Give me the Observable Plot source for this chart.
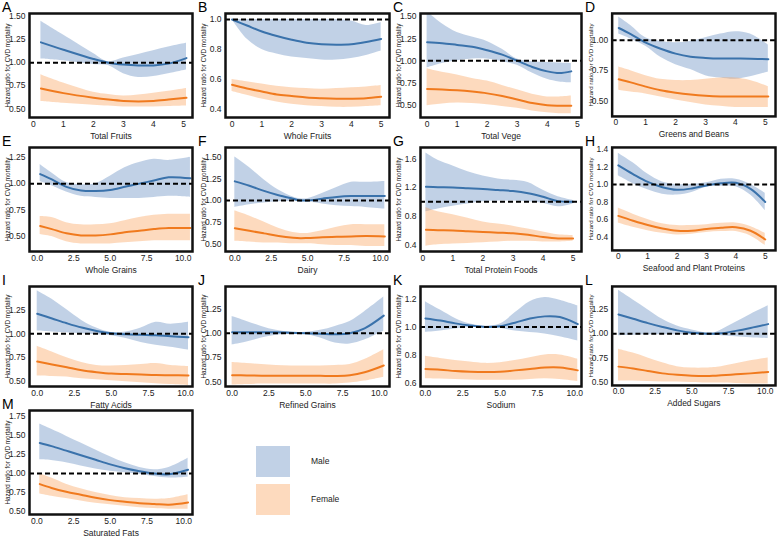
<!DOCTYPE html>
<html><head><meta charset="utf-8">
<script src="https://cdn.jsdelivr.net/npm/d3@7"></script>
<script src="https://cdn.jsdelivr.net/npm/@observablehq/plot@0.6"></script>
<style>
body{margin:0;background:#fff;font-family:"Liberation Sans",Arial,sans-serif;}
#wrap{position:relative;width:778px;height:539px;overflow:hidden;background:#fff;}
.panel{position:absolute;}
.letter{position:absolute;font-size:14px;line-height:14px;color:#000;}
.sw{position:absolute;width:34px;height:31px;}
.lt{position:absolute;font-size:8.5px;color:#222;}
g[aria-label="y-axis label"]{font-size:6.3px;}
</style></head><body><div id="wrap"></div>
<script>
// ---- data ----
const A_x=[0.25,1,2,2.5,3,3.5,4,4.5,5.1];
const A_m=[1.22,1.14,1.04,1.0,0.98,0.97,0.97,0.99,1.05];
const A_mLo=[1.04,1.02,0.98,0.97,0.88,0.84,0.85,0.88,0.92];
const A_mHi=[1.45,1.30,1.10,1.01,1.05,1.09,1.13,1.17,1.21];
const A_f=[0.72,0.67,0.62,0.60,0.585,0.58,0.585,0.60,0.62];
const A_fLo=[0.58,0.56,0.54,0.53,0.52,0.52,0.52,0.525,0.53];
const A_fHi=[0.87,0.78,0.68,0.655,0.64,0.65,0.67,0.69,0.72];

const B_x=[0,0.5,1,1.5,2,2.5,3,3.5,4,4.5,5];
const B_m=[1.0,0.96,0.92,0.89,0.865,0.845,0.835,0.832,0.835,0.85,0.87];
const B_mLo=[1.0,0.87,0.80,0.77,0.75,0.74,0.73,0.73,0.74,0.76,0.79];
const B_mHi=[1.0,1.0,1.0,1.0,1.0,1.0,1.0,1.0,0.99,0.96,0.98];
const B_f=[0.565,0.54,0.52,0.50,0.49,0.48,0.475,0.472,0.472,0.475,0.485];
const B_fLo=[0.52,0.495,0.47,0.45,0.435,0.425,0.42,0.415,0.415,0.42,0.425];
const B_fHi=[0.60,0.585,0.57,0.555,0.545,0.54,0.535,0.54,0.545,0.55,0.56];

const C_x=[0,0.5,1,1.5,2,2.5,3,3.5,4,4.4,4.8];
const C_m=[1.21,1.20,1.18,1.16,1.12,1.07,1.0,0.93,0.88,0.86,0.88];
const C_mLo=[0.92,0.97,1.0,1.02,1.02,0.99,0.95,0.86,0.79,0.76,0.75];
const C_mHi=[1.56,1.42,1.32,1.27,1.22,1.13,1.02,0.99,0.98,0.975,0.97];
const C_f=[0.68,0.675,0.665,0.65,0.63,0.60,0.56,0.52,0.495,0.49,0.49];
const C_fLo=[0.49,0.51,0.52,0.515,0.50,0.48,0.46,0.43,0.41,0.40,0.40];
const C_fHi=[0.91,0.87,0.84,0.80,0.77,0.72,0.67,0.62,0.59,0.59,0.60];

const D_x=[0.1,0.5,1,1.5,2,2.5,3,3.5,4,4.5,5.1];
const D_m=[1.10,1.05,0.98,0.93,0.89,0.865,0.855,0.85,0.85,0.848,0.845];
const D_mLo=[1.05,1.01,0.95,0.86,0.80,0.76,0.71,0.69,0.68,0.70,0.74];
const D_mHi=[1.19,1.12,1.02,0.99,0.98,0.99,1.02,1.05,1.07,1.05,0.96];
const D_f=[0.68,0.655,0.62,0.59,0.57,0.555,0.545,0.54,0.54,0.54,0.54];
const D_fLo=[0.59,0.575,0.56,0.535,0.51,0.49,0.47,0.46,0.45,0.45,0.45];
const D_fHi=[0.78,0.75,0.71,0.68,0.67,0.67,0.68,0.69,0.69,0.67,0.62];

const E_x=[0.2,1,2,3,4,5,6,7,8,9,10.5];
const E_m=[1.09,1.04,0.97,0.935,0.93,0.94,0.97,1.0,1.03,1.06,1.05];
const E_mLo=[1.02,0.98,0.92,0.88,0.87,0.86,0.86,0.86,0.87,0.88,0.87];
const E_mHi=[1.18,1.10,1.01,0.99,1.0,1.07,1.15,1.20,1.23,1.22,1.25];
const E_f=[0.60,0.57,0.53,0.51,0.51,0.52,0.54,0.555,0.57,0.58,0.58];
const E_fLo=[0.52,0.50,0.45,0.43,0.43,0.43,0.44,0.45,0.46,0.46,0.46];
const E_fHi=[0.69,0.68,0.63,0.61,0.61,0.62,0.65,0.68,0.70,0.71,0.71];

const F_x=[0,1,2,3,4,4.5,5,6,7,8,9,10.3];
const F_m=[1.22,1.17,1.11,1.06,1.02,1.0,1.0,1.02,1.04,1.05,1.05,1.05];
const F_mLo=[0.92,0.95,0.97,0.985,0.99,0.99,0.985,0.96,0.94,0.93,0.92,0.90];
const F_mHi=[1.50,1.38,1.24,1.12,1.04,1.02,1.02,1.08,1.15,1.21,1.21,1.22];
const F_f=[0.68,0.65,0.62,0.59,0.57,0.565,0.567,0.575,0.58,0.585,0.59,0.585];
const F_fLo=[0.53,0.52,0.51,0.51,0.50,0.50,0.50,0.49,0.48,0.48,0.47,0.47];
const F_fHi=[0.88,0.82,0.75,0.68,0.63,0.62,0.62,0.65,0.69,0.72,0.72,0.72];

const G_x=[0.1,0.5,1,1.5,2,2.5,3,3.5,4,4.5,5];
const G_m=[1.21,1.205,1.20,1.19,1.18,1.165,1.15,1.12,1.07,1.01,1.0];
const G_mLo=[0.86,0.90,0.94,0.97,1.0,1.01,1.01,1.0,0.98,0.93,0.97];
const G_mHi=[1.68,1.58,1.50,1.42,1.36,1.32,1.30,1.27,1.16,1.07,1.02];
const G_f=[0.61,0.605,0.60,0.59,0.58,0.57,0.56,0.54,0.51,0.49,0.49];
const G_fLo=[0.38,0.40,0.41,0.42,0.43,0.44,0.45,0.45,0.44,0.44,0.45];
const G_fHi=[0.92,0.86,0.82,0.77,0.72,0.69,0.66,0.62,0.58,0.54,0.53];

const H_x=[0,0.5,1,1.5,2,2.5,3,3.5,4,4.5,5];
const H_m=[1.22,1.12,1.03,0.97,0.94,0.955,0.99,1.015,1.02,0.95,0.80];
const H_mLo=[1.10,1.01,0.94,0.89,0.88,0.91,0.97,0.98,0.975,0.88,0.70];
const H_mHi=[1.36,1.25,1.12,1.03,1.0,1.0,1.02,1.06,1.06,1.0,0.90];
const H_f=[0.64,0.585,0.535,0.495,0.47,0.47,0.49,0.505,0.51,0.47,0.37];
const H_fLo=[0.56,0.51,0.47,0.44,0.42,0.43,0.45,0.46,0.46,0.41,0.30];
const H_fHi=[0.73,0.66,0.60,0.55,0.53,0.53,0.54,0.555,0.56,0.52,0.44];

const I_x=[0,1,2,3,4,5,6,7,8,9,10.2];
const I_m=[1.21,1.16,1.11,1.065,1.03,1.005,0.995,0.99,0.985,0.975,0.965];
const I_mLo=[1.03,1.02,1.01,1.0,0.99,0.98,0.95,0.91,0.88,0.86,0.83];
const I_mHi=[1.45,1.36,1.25,1.14,1.06,1.015,1.02,1.06,1.12,1.10,1.12];
const I_f=[0.71,0.68,0.65,0.62,0.60,0.585,0.58,0.575,0.57,0.568,0.565];
const I_fLo=[0.56,0.555,0.55,0.53,0.52,0.51,0.50,0.49,0.48,0.47,0.46];
const I_fHi=[0.87,0.81,0.75,0.70,0.67,0.665,0.67,0.68,0.69,0.67,0.66];

const J_x=[0,1,2,3,4,5,6,7,8,9,10.3];
const J_m=[1.01,1.01,1.01,1.01,1.005,1.0,0.995,0.99,1.0,1.05,1.18];
const J_mLo=[0.88,0.91,0.95,0.98,0.99,0.99,0.95,0.90,0.89,0.93,1.02];
const J_mHi=[1.17,1.12,1.07,1.03,1.01,1.01,1.03,1.07,1.12,1.22,1.37];
const J_f=[0.57,0.568,0.566,0.565,0.565,0.565,0.564,0.563,0.57,0.60,0.67];
const J_fLo=[0.47,0.475,0.48,0.48,0.48,0.48,0.48,0.48,0.49,0.51,0.55];
const J_fHi=[0.70,0.69,0.68,0.67,0.665,0.665,0.665,0.67,0.68,0.73,0.83];

const K_x=[0,1,2,3,4,5,6,7,8,9,10.2];
const K_m=[1.06,1.045,1.025,1.01,1.0,1.005,1.03,1.06,1.075,1.07,1.02];
const K_mLo=[0.96,0.97,0.985,0.995,0.995,0.99,0.97,0.96,0.95,0.93,0.90];
const K_mHi=[1.18,1.12,1.06,1.02,1.005,1.02,1.10,1.18,1.21,1.19,1.15];
const K_f=[0.70,0.695,0.685,0.68,0.678,0.68,0.69,0.70,0.71,0.71,0.69];
const K_fLo=[0.63,0.628,0.625,0.622,0.62,0.62,0.62,0.625,0.63,0.625,0.61];
const K_fHi=[0.79,0.775,0.76,0.75,0.74,0.745,0.76,0.78,0.80,0.80,0.77];

const L_x=[0,1,2,3,4,5,6,6.5,7,8,9,10.2];
const L_m=[1.20,1.155,1.11,1.07,1.035,1.01,1.0,1.0,1.005,1.03,1.06,1.10];
const L_mLo=[0.98,0.985,0.99,0.99,0.99,0.99,0.99,0.985,0.98,0.97,0.96,0.95];
const L_mHi=[1.45,1.35,1.25,1.15,1.08,1.04,1.01,1.01,1.04,1.12,1.20,1.29];
const L_f=[0.66,0.64,0.615,0.59,0.575,0.565,0.562,0.565,0.57,0.58,0.59,0.605];
const L_fLo=[0.51,0.51,0.505,0.50,0.50,0.495,0.49,0.49,0.49,0.485,0.48,0.48];
const L_fHi=[0.84,0.80,0.75,0.70,0.66,0.645,0.645,0.65,0.66,0.69,0.72,0.75];

const M_x=[0.2,1,2,3,4,5,6,7,8,9,10.3];
const M_m=[1.40,1.36,1.30,1.24,1.18,1.12,1.07,1.03,1.0,0.99,1.05];
const M_mLo=[1.18,1.17,1.14,1.10,1.06,1.03,1.01,0.99,0.96,0.94,0.95];
const M_mHi=[1.65,1.58,1.49,1.40,1.31,1.22,1.14,1.08,1.05,1.08,1.20];
const M_f=[0.86,0.81,0.76,0.72,0.68,0.65,0.63,0.61,0.60,0.59,0.62];
const M_fLo=[0.73,0.70,0.67,0.64,0.61,0.59,0.57,0.55,0.54,0.53,0.53];
const M_fHi=[1.0,0.94,0.86,0.80,0.75,0.71,0.68,0.67,0.66,0.67,0.72];

const titles=["Total Fruits","Whole Fruits","Total Vege","Greens and Beans","Whole Grains","Dairy","Total Protein Foods","Seafood and Plant Proteins","Fatty Acids","Refined Grains","Sodium","Added Sugars","Saturated Fats"];
const letters=["A","B","C","D","E","F","G","H","I","J","K","L","M"];
const xTicks5=[0,1,2,3,4,5];
const xTicks10=[0,2.5,5,7.5,10];
const yTicksQ=[0.5,0.75,1.0,1.25,1.5,1.75];
const yTicksB=[0.4,0.6,0.8,1.0];
const yTicksG=[0.4,0.8,1.2,1.6];
const yTicksH=[0.4,0.6,0.8,1.0,1.2,1.4];
const yTicksK=[0.6,0.8,1.0,1.2];
const seriesNames=["Male","Female"];

// ---- scale settings per panel ----
const cfg={
 A:{xd:[-0.13,5.3],yd:[0.406,1.533],xt:xTicks5,yt:yTicksQ,xf:"d",yf:".2f"},
 B:{xd:[-0.22,5.28],yd:[0.347,1.04],xt:xTicks5,yt:yTicksB,xf:"d",yf:".1f"},
 C:{xd:[-0.22,5.14],yd:[0.356,1.537],xt:xTicks5,yt:yTicksQ,xf:"d",yf:".2f"},
 D:{xd:[-0.12,5.34],yd:[0.376,1.219],xt:xTicks5,yt:yTicksQ,xf:"d",yf:".2f"},
 E:{xd:[-0.53,10.64],yd:[0.358,1.342],xt:xTicks10,yt:yTicksQ,xf:".1f",yf:".2f"},
 F:{xd:[-0.64,10.62],yd:[0.411,1.611],xt:xTicks10,yt:yTicksQ,xf:".1f",yf:".2f"},
 G:{xd:[-0.08,5.28],yd:[0.307,1.758],xt:xTicks5,yt:yTicksG,xf:"d",yf:".1f"},
 H:{xd:[-0.21,5.35],yd:[0.244,1.426],xt:xTicks5,yt:yTicksH,xf:"d",yf:".1f"},
 I:{xd:[-0.52,10.47],yd:[0.45,1.494],xt:xTicks10,yt:yTicksQ,xf:".1f",yf:".2f"},
 J:{xd:[-0.45,10.69],yd:[0.455,1.478],xt:xTicks10,yt:yTicksQ,xf:".1f",yf:".2f"},
 K:{xd:[-0.33,10.45],yd:[0.575,1.288],xt:xTicks10,yt:yTicksK,xf:".1f",yf:".1f"},
 L:{xd:[-0.43,10.7],yd:[0.465,1.49],xt:xTicks10,yt:yTicksQ,xf:".1f",yf:".2f"},
 M:{xd:[-0.5,10.6],yd:[0.461,1.828],xt:xTicks10,yt:yTicksQ,xf:".1f",yf:".2f"}
};
const src={A:[A_x,A_m,A_mLo,A_mHi,A_f,A_fLo,A_fHi],B:[B_x,B_m,B_mLo,B_mHi,B_f,B_fLo,B_fHi],C:[C_x,C_m,C_mLo,C_mHi,C_f,C_fLo,C_fHi],D:[D_x,D_m,D_mLo,D_mHi,D_f,D_fLo,D_fHi],E:[E_x,E_m,E_mLo,E_mHi,E_f,E_fLo,E_fHi],F:[F_x,F_m,F_mLo,F_mHi,F_f,F_fLo,F_fHi],G:[G_x,G_m,G_mLo,G_mHi,G_f,G_fLo,G_fHi],H:[H_x,H_m,H_mLo,H_mHi,H_f,H_fLo,H_fHi],I:[I_x,I_m,I_mLo,I_mHi,I_f,I_fLo,I_fHi],J:[J_x,J_m,J_mLo,J_mHi,J_f,J_fLo,J_fHi],K:[K_x,K_m,K_mLo,K_mHi,K_f,K_fLo,K_fHi],L:[L_x,L_m,L_mLo,L_mHi,L_f,L_fLo,L_fHi],M:[M_x,M_m,M_mLo,M_mHi,M_f,M_fLo,M_fHi]};

// ---- layout ----
const colFrame=[[29,192],[225,389],[420,581],[612,777]];
const rowFrame=[[13,117],[147,251],[286,386],[410,514]];
const maleLine="#3a72ab", femaleLine="#f07a1e";
const maleBand="#5b86bd", femaleBand="#fb9e55";
const wrap=document.getElementById("wrap");
const mL=34,mR=3,mT=4,mB=26;
const inDom=(t,d)=>t>=d[0]-1e-9&&t<=d[1]+1e-9;

letters.forEach((id,i)=>{
  const col=i%4,row=Math.floor(i/4);
  const [fl,fr]=colFrame[col],[ft,fb]=rowFrame[row];
  const c=cfg[id], s=src[id];
  const rows=s[0].map((x,k)=>({x,m:s[1][k],mLo:s[2][k],mHi:s[3][k],f:s[4][k],fLo:s[5][k],fHi:s[6][k]}));
  const xt=c.xt.filter(t=>inDom(t,c.xd)), yt=c.yt.filter(t=>inDom(t,c.yd));
  const W=fr-fl+mL+mR,H=fb-ft+mT+mB;
  const p=Plot.plot({
    width:W,height:H,marginLeft:mL,marginRight:mR,marginTop:mT,marginBottom:mB,
    style:{fontFamily:"Liberation Sans, Arial, sans-serif",fontSize:"8.5px",color:"#222",background:"transparent",overflow:"visible"},
    x:{domain:c.xd,ticks:xt,tickFormat:d3.format(c.xf)},
    y:{domain:c.yd,ticks:yt,tickFormat:d3.format(c.yf)},
    marks:[
      Plot.areaY(rows,{x:"x",y1:"mLo",y2:"mHi",fill:maleBand,fillOpacity:0.38,curve:"catmull-rom",clip:true}),
      Plot.areaY(rows,{x:"x",y1:"fLo",y2:"fHi",fill:femaleBand,fillOpacity:0.38,curve:"catmull-rom",clip:true}),
      Plot.line(rows,{x:"x",y:"m",stroke:maleLine,strokeWidth:2,curve:"catmull-rom",clip:true}),
      Plot.line(rows,{x:"x",y:"f",stroke:femaleLine,strokeWidth:2,curve:"catmull-rom",clip:true}),
      Plot.ruleY([1],{stroke:"#000",strokeWidth:2,strokeDasharray:"5,3"}),
      Plot.axisX({ticks:xt,tickFormat:d3.format(c.xf),tickSize:0,tickPadding:3,label:titles[i],labelAnchor:"center",labelArrow:"none",labelOffset:21}),
      Plot.axisY({ticks:yt,tickFormat:d3.format(c.yf),tickSize:0,tickPadding:4,label:"Hazard ratio for CVD mortality",labelAnchor:"center",labelArrow:"none",labelOffset:24}),
      Plot.frame({stroke:"#111",strokeWidth:2.5})
    ]
  });
  const d=document.createElement("div");
  d.className="panel";d.style.left=(fl-mL)+"px";d.style.top=(ft-mT)+"px";
  d.appendChild(p);wrap.appendChild(d);
  const lt=document.createElement("div");
  lt.className="letter";lt.textContent=id;
  lt.style.left=(fl-27)+"px";lt.style.top=(ft-13)+"px";
  wrap.appendChild(lt);
});

// legend
const lg=[["Male",maleBand,446],["Female",femaleBand,484]];
lg.forEach(([name,col,top],k)=>{
  const sw=document.createElement("div");sw.className="sw";
  sw.style.left="256px";sw.style.top=top+"px";sw.style.background=col;sw.style.opacity=0.38;
  wrap.appendChild(sw);
  const t=document.createElement("div");t.className="lt";t.textContent=seriesNames[k];
  t.style.left="311px";t.style.top=(top+10)+"px";
  wrap.appendChild(t);
});
</script></body></html>
